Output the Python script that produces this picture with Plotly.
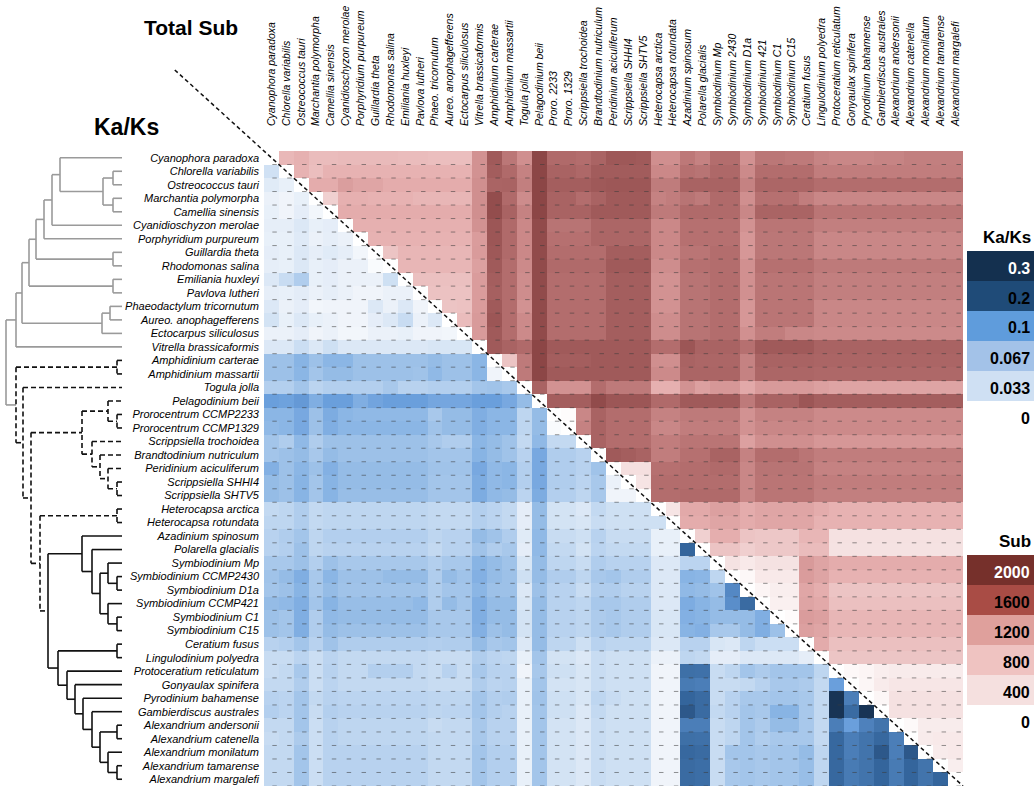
import numpy as np
import plotly.graph_objects as go

# ---------------- data ----------------
row_taxa = ["Cyanophora paradoxa", "Chlorella variabilis", "Ostreococcus tauri", "Marchantia polymorpha",
            "Camellia sinensis", "Cyanidioschyzon merolae", "Porphyridium purpureum", "Guillardia theta",
            "Rhodomonas salina", "Emiliania huxleyi", "Pavlova lutheri", "Phaeodactylum tricornutum",
            "Aureo. anophagefferens", "Ectocarpus siliculosus", "Vitrella brassicaformis", "Amphidinium carterae",
            "Amphidinium massartii", "Togula jolla", "Pelagodinium beii", "Prorocentrum CCMP2233",
            "Prorocentrum CCMP1329", "Scrippsiella trochoidea", "Brandtodinium nutriculum", "Peridinium aciculiferum",
            "Scrippsiella SHHI4", "Scrippsiella SHTV5", "Heterocapsa arctica", "Heterocapsa rotundata",
            "Azadinium spinosum", "Polarella glacialis", "Symbiodinium Mp", "Symbiodinium CCMP2430",
            "Symbiodinium D1a", "Symbiodinium CCMP421", "Symbiodinium C1", "Symbiodinium C15", "Ceratium fusus",
            "Lingulodinium polyedra", "Protoceratium reticulatum", "Gonyaulax spinifera", "Pyrodinium bahamense",
            "Gambierdiscus australes", "Alexandrium andersonii", "Alexandrium catenella", "Alexandrium monilatum",
            "Alexandrium tamarense", "Alexandrium margalefi"]

col_taxa = ["Cyanophora paradoxa", "Chlorella variabilis", "Ostreococcus tauri", "Marchantia polymorpha",
            "Camellia sinensis", "Cyanidioschyzon merolae", "Porphyridium purpureum", "Guillardia theta",
            "Rhodomonas salina", "Emiliania huxleyi", "Pavlova lutheri", "Phaeo. tricornutum",
            "Aureo. anophagefferens", "Ectocarpus siliculosus", "Vitrella brassicaformis", "Amphidinium carterae",
            "Amphidinium massartii", "Togula jolla", "Pelagodinium beii", "Proro. 2233", "Proro. 1329",
            "Scrippsiella trochoidea", "Brandtodinium nutriculum", "Peridinium aciculiferum", "Scrippsiella SHHI4",
            "Scrippsiella SHTV5", "Heterocapsa arctica", "Heterocapsa rotundata", "Azadinium spinosum",
            "Polarella glacialis", "Symbiodinium Mp", "Symbiodinium 2430", "Symbiodinium D1a", "Symbiodinium 421",
            "Symbiodinium C1", "Symbiodinium C15", "Ceratium fusus", "Lingulodinium polyedra",
            "Protoceratium reticulatum", "Gonyaulax spinifera", "Pyrodinium bahamense", "Gambierdiscus australes",
            "Alexandrium andersonii", "Alexandrium catenella", "Alexandrium monilatum", "Alexandrium tamarense",
            "Alexandrium margalefi"]

# Total substitutions, upper triangle: row i holds columns i+1 .. 46
sub_upper = [
    [930, 990, 900, 900, 920, 920, 920, 920, 900, 900, 870, 870, 870, 1250, 1630, 1420, 1270, 1800, 1500, 1500, 1480, 1550, 1650, 1650, 1630, 1270, 1270, 1410, 1350, 1480, 1480, 1250, 1420, 1420, 1400, 1400, 1340, 1320, 1320, 1320, 1340, 1340, 1370, 1370, 1370, 1370],
    [980, 870, 980, 980, 980, 980, 980, 980, 980, 980, 980, 980, 1250, 1610, 1500, 1350, 1800, 1560, 1560, 1520, 1620, 1620, 1620, 1620, 1310, 1310, 1460, 1440, 1520, 1520, 1300, 1480, 1480, 1480, 1480, 1380, 1380, 1380, 1380, 1380, 1380, 1380, 1380, 1380, 1380],
    [1040, 1040, 1170, 1110, 1110, 1040, 1040, 1040, 1040, 1040, 1040, 1270, 1550, 1560, 1370, 1800, 1600, 1600, 1600, 1640, 1660, 1660, 1660, 1390, 1390, 1560, 1560, 1560, 1560, 1350, 1530, 1530, 1530, 1530, 1480, 1480, 1480, 1480, 1480, 1480, 1480, 1480, 1480, 1480],
    [600, 1000, 1000, 980, 980, 980, 950, 950, 950, 950, 1270, 1740, 1500, 1290, 1800, 1560, 1560, 1480, 1560, 1630, 1630, 1630, 1350, 1380, 1440, 1400, 1500, 1500, 1270, 1460, 1460, 1460, 1380, 1320, 1320, 1320, 1320, 1320, 1320, 1320, 1320, 1320, 1320],
    [1040, 1040, 1040, 1040, 1040, 1040, 1040, 1040, 1040, 1270, 1740, 1560, 1350, 1800, 1560, 1560, 1560, 1630, 1630, 1630, 1630, 1400, 1400, 1500, 1500, 1500, 1500, 1320, 1550, 1550, 1550, 1550, 1430, 1430, 1430, 1430, 1430, 1430, 1430, 1430, 1430, 1430],
    [1000, 1000, 1000, 1000, 1000, 1000, 1000, 1000, 1250, 1670, 1500, 1310, 1760, 1440, 1440, 1440, 1530, 1530, 1530, 1530, 1310, 1310, 1460, 1460, 1460, 1460, 1250, 1430, 1430, 1430, 1430, 1370, 1370, 1370, 1370, 1370, 1370, 1370, 1370, 1370, 1370],
    [980, 980, 980, 980, 980, 980, 980, 1180, 1670, 1500, 1310, 1760, 1460, 1460, 1460, 1530, 1530, 1530, 1530, 1310, 1310, 1460, 1460, 1460, 1460, 1220, 1420, 1420, 1420, 1420, 1320, 1320, 1320, 1320, 1320, 1320, 1320, 1320, 1320, 1320],
    [800, 950, 950, 950, 950, 950, 1190, 1650, 1500, 1310, 1760, 1480, 1480, 1480, 1480, 1600, 1600, 1600, 1310, 1310, 1430, 1430, 1480, 1480, 1220, 1420, 1420, 1420, 1420, 1320, 1320, 1320, 1320, 1320, 1320, 1320, 1320, 1320, 1320],
    [950, 950, 950, 950, 950, 1150, 1630, 1480, 1300, 1760, 1500, 1500, 1500, 1500, 1630, 1630, 1630, 1280, 1280, 1460, 1460, 1480, 1480, 1260, 1460, 1460, 1460, 1460, 1400, 1400, 1400, 1400, 1400, 1400, 1400, 1400, 1400, 1400],
    [850, 850, 850, 850, 1180, 1600, 1480, 1280, 1760, 1480, 1480, 1480, 1480, 1600, 1600, 1600, 1250, 1250, 1440, 1440, 1480, 1480, 1260, 1430, 1430, 1430, 1430, 1370, 1370, 1370, 1370, 1370, 1370, 1370, 1370, 1370, 1370],
    [820, 820, 820, 1180, 1580, 1480, 1280, 1760, 1480, 1480, 1480, 1480, 1600, 1600, 1600, 1250, 1250, 1440, 1440, 1480, 1480, 1260, 1430, 1430, 1430, 1430, 1370, 1370, 1370, 1370, 1370, 1370, 1370, 1370, 1370, 1370],
    [800, 820, 1180, 1630, 1480, 1250, 1760, 1480, 1480, 1480, 1480, 1600, 1600, 1600, 1250, 1250, 1440, 1440, 1480, 1480, 1220, 1430, 1430, 1430, 1430, 1320, 1320, 1320, 1320, 1320, 1320, 1320, 1320, 1320, 1320],
    [900, 1200, 1670, 1480, 1300, 1760, 1480, 1480, 1480, 1480, 1600, 1600, 1600, 1280, 1280, 1440, 1440, 1480, 1480, 1220, 1430, 1430, 1430, 1430, 1320, 1320, 1320, 1320, 1320, 1320, 1320, 1320, 1320, 1320],
    [1200, 1630, 1480, 1300, 1760, 1480, 1480, 1480, 1480, 1600, 1600, 1600, 1280, 1280, 1440, 1440, 1480, 1480, 1260, 1380, 1380, 1320, 1320, 1300, 1300, 1300, 1300, 1300, 1300, 1300, 1300, 1300, 1300],
    [1630, 1560, 1500, 1800, 1630, 1630, 1630, 1630, 1630, 1630, 1630, 1480, 1480, 1670, 1560, 1560, 1560, 1460, 1630, 1630, 1630, 1630, 1560, 1560, 1560, 1560, 1560, 1560, 1560, 1560, 1560, 1560],
    [800, 1400, 1800, 1600, 1600, 1600, 1630, 1630, 1630, 1630, 1270, 1270, 1560, 1530, 1530, 1530, 1350, 1560, 1560, 1560, 1560, 1540, 1540, 1540, 1540, 1540, 1540, 1540, 1540, 1540, 1540],
    [1400, 1800, 1630, 1630, 1630, 1630, 1630, 1630, 1630, 1300, 1300, 1540, 1540, 1540, 1540, 1350, 1530, 1530, 1530, 1530, 1520, 1520, 1520, 1520, 1520, 1520, 1520, 1520, 1520, 1520],
    [1560, 1250, 1250, 1250, 1480, 1400, 1400, 1400, 1000, 1000, 1250, 1150, 1220, 1220, 1070, 1200, 1200, 1200, 1200, 1150, 1120, 1120, 1120, 1120, 1120, 1120, 1120, 1120, 1120],
    [1600, 1600, 1600, 1760, 1670, 1670, 1670, 1500, 1500, 1630, 1630, 1630, 1630, 1400, 1560, 1560, 1560, 1670, 1600, 1600, 1600, 1600, 1600, 1600, 1600, 1600, 1600, 1600],
    [50, 1320, 1560, 1480, 1480, 1480, 1350, 1350, 1400, 1400, 1400, 1400, 1250, 1350, 1350, 1350, 1350, 1300, 1300, 1300, 1300, 1300, 1300, 1300, 1300, 1300, 1300],
    [1350, 1560, 1480, 1480, 1480, 1320, 1320, 1380, 1380, 1380, 1380, 1250, 1320, 1320, 1320, 1320, 1300, 1300, 1300, 1300, 1300, 1300, 1300, 1300, 1300, 1300],
    [1560, 1480, 1480, 1480, 1380, 1380, 1430, 1430, 1430, 1430, 1150, 1270, 1270, 1270, 1270, 1220, 1220, 1220, 1220, 1220, 1220, 1220, 1220, 1220, 1220],
    [1630, 1600, 1560, 1380, 1380, 1460, 1460, 1560, 1560, 1350, 1480, 1480, 1480, 1430, 1380, 1380, 1380, 1380, 1380, 1380, 1380, 1380, 1380, 1380],
    [350, 350, 1460, 1460, 1480, 1480, 1500, 1500, 1320, 1440, 1440, 1440, 1440, 1350, 1350, 1350, 1350, 1350, 1350, 1350, 1350, 1350, 1350],
    [300, 1480, 1480, 1480, 1480, 1480, 1480, 1320, 1430, 1430, 1430, 1430, 1380, 1380, 1380, 1380, 1380, 1380, 1380, 1380, 1380, 1380],
    [1480, 1480, 1500, 1500, 1500, 1500, 1320, 1430, 1430, 1430, 1430, 1370, 1370, 1370, 1370, 1370, 1370, 1370, 1370, 1370, 1370],
    [300, 1070, 1070, 1150, 1150, 1040, 1110, 1110, 1110, 1110, 1040, 980, 980, 980, 980, 980, 980, 980, 980, 980],
    [1040, 1040, 1110, 1110, 1040, 1100, 1100, 1100, 1100, 980, 980, 980, 980, 980, 980, 980, 980, 980, 980],
    [600, 1020, 1020, 800, 750, 750, 750, 950, 950, 330, 330, 330, 330, 330, 330, 330, 330, 330],
    [800, 800, 620, 730, 730, 730, 900, 900, 320, 320, 320, 320, 320, 320, 320, 320, 320],
    [320, 250, 320, 320, 320, 1200, 1120, 1040, 1040, 1040, 1040, 1040, 1040, 1040, 1040, 1040],
    [100, 250, 250, 250, 1180, 1120, 980, 980, 980, 980, 980, 980, 980, 980, 980],
    [130, 200, 200, 1100, 1020, 800, 800, 800, 800, 800, 800, 800, 800, 800],
    [180, 180, 1120, 1070, 850, 850, 850, 850, 850, 850, 850, 850, 850],
    [60, 1180, 1150, 950, 950, 950, 950, 950, 950, 950, 950, 950],
    [1150, 1110, 950, 950, 950, 950, 950, 950, 950, 950, 950],
    [1050, 850, 850, 850, 850, 850, 850, 850, 850, 850],
    [780, 780, 780, 780, 780, 780, 780, 780, 780],
    [100, 130, 200, 230, 230, 230, 230, 230],
    [120, 230, 280, 280, 280, 280, 280],
    [120, 330, 330, 330, 330, 330],
    [330, 330, 330, 330, 330],
    [80, 220, 220, 220],
    [230, 250, 250],
    [230, 250],
    [200],
    [],
]

# Ka/Ks, lower triangle: row i holds columns 0 .. i-1
kaks_lower = [
    [],
    [0.035],
    [0.024, 0.018],
    [0.016, 0.012, 0.018],
    [0.018, 0.012, 0.021, 0.01],
    [0.02, 0.02, 0.027, 0.018, 0.021],
    [0.018, 0.018, 0.025, 0.016, 0.02, 0.016],
    [0.021, 0.018, 0.027, 0.02, 0.024, 0.02, 0.01],
    [0.02, 0.018, 0.027, 0.018, 0.021, 0.016, 0.016, 0.005],
    [0.027, 0.04, 0.055, 0.018, 0.021, 0.016, 0.016, 0.016, 0.036],
    [0.02, 0.018, 0.022, 0.016, 0.02, 0.016, 0.012, 0.012, 0.016, 0.016],
    [0.027, 0.016, 0.021, 0.01, 0.012, 0.012, 0.012, 0.027, 0.016, 0.027, 0.012],
    [0.033, 0.018, 0.027, 0.018, 0.016, 0.012, 0.012, 0.021, 0.027, 0.04, 0.016, 0.027],
    [0.016, 0.016, 0.021, 0.012, 0.016, 0.01, 0.01, 0.016, 0.016, 0.018, 0.012, 0.012, 0.01],
    [0.027, 0.027, 0.038, 0.027, 0.036, 0.027, 0.027, 0.027, 0.027, 0.027, 0.027, 0.03, 0.03, 0.03],
    [0.067, 0.067, 0.08, 0.067, 0.078, 0.078, 0.067, 0.067, 0.067, 0.067, 0.067, 0.072, 0.067, 0.067, 0.078],
    [0.067, 0.067, 0.078, 0.063, 0.072, 0.072, 0.067, 0.067, 0.067, 0.067, 0.065, 0.075, 0.067, 0.067, 0.078, 0.012],
    [0.053, 0.053, 0.063, 0.048, 0.053, 0.053, 0.053, 0.053, 0.06, 0.05, 0.05, 0.053, 0.053, 0.053, 0.063, 0.065, 0.06],
    [0.1, 0.097, 0.105, 0.085, 0.1, 0.1, 0.085, 0.094, 0.1, 0.1, 0.1, 0.092, 0.092, 0.092, 0.1, 0.1, 0.09, 0.072],
    [0.078, 0.078, 0.09, 0.067, 0.087, 0.078, 0.075, 0.075, 0.075, 0.075, 0.075, 0.06, 0.072, 0.072, 0.085, 0.078, 0.078, 0.046, 0.072],
    [0.075, 0.078, 0.09, 0.067, 0.085, 0.078, 0.078, 0.078, 0.078, 0.078, 0.078, 0.065, 0.072, 0.072, 0.085, 0.078, 0.078, 0.046, 0.072, 0.005],
    [0.063, 0.055, 0.075, 0.055, 0.067, 0.067, 0.067, 0.067, 0.067, 0.067, 0.067, 0.06, 0.055, 0.055, 0.078, 0.072, 0.065, 0.043, 0.075, 0.043, 0.043],
    [0.063, 0.067, 0.072, 0.06, 0.072, 0.067, 0.067, 0.067, 0.067, 0.067, 0.067, 0.063, 0.063, 0.063, 0.08, 0.072, 0.065, 0.05, 0.09, 0.055, 0.055, 0.05],
    [0.083, 0.067, 0.078, 0.067, 0.083, 0.072, 0.072, 0.072, 0.072, 0.072, 0.072, 0.065, 0.065, 0.065, 0.09, 0.075, 0.078, 0.053, 0.09, 0.055, 0.055, 0.05, 0.065],
    [0.072, 0.067, 0.08, 0.063, 0.08, 0.072, 0.072, 0.072, 0.072, 0.072, 0.072, 0.063, 0.063, 0.063, 0.087, 0.075, 0.078, 0.053, 0.09, 0.055, 0.055, 0.048, 0.06, 0.016],
    [0.072, 0.067, 0.08, 0.063, 0.08, 0.07, 0.07, 0.07, 0.07, 0.07, 0.07, 0.063, 0.063, 0.063, 0.087, 0.075, 0.072, 0.048, 0.087, 0.053, 0.053, 0.046, 0.06, 0.012, 0.012],
    [0.043, 0.046, 0.055, 0.043, 0.046, 0.046, 0.046, 0.046, 0.046, 0.046, 0.046, 0.043, 0.043, 0.043, 0.053, 0.048, 0.043, 0.021, 0.072, 0.033, 0.033, 0.027, 0.043, 0.036, 0.036, 0.036],
    [0.046, 0.046, 0.055, 0.043, 0.046, 0.046, 0.046, 0.046, 0.046, 0.046, 0.046, 0.043, 0.043, 0.043, 0.053, 0.048, 0.043, 0.021, 0.072, 0.033, 0.033, 0.03, 0.04, 0.036, 0.036, 0.036, 0.036],
    [0.05, 0.055, 0.063, 0.046, 0.053, 0.053, 0.053, 0.053, 0.053, 0.053, 0.053, 0.046, 0.05, 0.05, 0.072, 0.065, 0.055, 0.024, 0.075, 0.04, 0.04, 0.036, 0.05, 0.04, 0.04, 0.04, 0.018, 0.018],
    [0.05, 0.053, 0.067, 0.046, 0.05, 0.05, 0.05, 0.05, 0.05, 0.05, 0.05, 0.043, 0.05, 0.05, 0.065, 0.055, 0.06, 0.021, 0.075, 0.043, 0.043, 0.033, 0.048, 0.043, 0.043, 0.043, 0.018, 0.018, 0.2],
    [0.06, 0.06, 0.067, 0.053, 0.067, 0.06, 0.06, 0.06, 0.06, 0.06, 0.06, 0.053, 0.06, 0.06, 0.08, 0.072, 0.065, 0.03, 0.072, 0.046, 0.046, 0.04, 0.055, 0.05, 0.05, 0.05, 0.027, 0.027, 0.048, 0.048],
    [0.065, 0.072, 0.085, 0.06, 0.078, 0.067, 0.067, 0.067, 0.072, 0.072, 0.072, 0.055, 0.072, 0.065, 0.083, 0.072, 0.067, 0.036, 0.072, 0.055, 0.055, 0.046, 0.06, 0.063, 0.055, 0.055, 0.027, 0.027, 0.08, 0.078, 0.046],
    [0.063, 0.067, 0.08, 0.06, 0.072, 0.065, 0.065, 0.065, 0.065, 0.065, 0.065, 0.055, 0.063, 0.063, 0.078, 0.067, 0.067, 0.027, 0.067, 0.05, 0.05, 0.04, 0.055, 0.055, 0.05, 0.05, 0.027, 0.027, 0.075, 0.072, 0.065, 0.12],
    [0.072, 0.075, 0.085, 0.063, 0.08, 0.07, 0.07, 0.07, 0.07, 0.07, 0.075, 0.055, 0.072, 0.063, 0.085, 0.072, 0.072, 0.03, 0.072, 0.05, 0.05, 0.046, 0.06, 0.06, 0.055, 0.055, 0.027, 0.027, 0.087, 0.08, 0.072, 0.115, 0.18],
    [0.067, 0.063, 0.085, 0.055, 0.075, 0.072, 0.072, 0.072, 0.072, 0.072, 0.072, 0.06, 0.06, 0.06, 0.085, 0.072, 0.072, 0.033, 0.072, 0.05, 0.05, 0.046, 0.057, 0.06, 0.055, 0.055, 0.03, 0.03, 0.083, 0.08, 0.072, 0.072, 0.072, 0.085],
    [0.067, 0.063, 0.085, 0.055, 0.072, 0.067, 0.067, 0.067, 0.067, 0.067, 0.067, 0.06, 0.06, 0.06, 0.083, 0.067, 0.072, 0.033, 0.072, 0.05, 0.05, 0.046, 0.057, 0.06, 0.055, 0.055, 0.03, 0.03, 0.08, 0.083, 0.06, 0.06, 0.072, 0.085, 0.067],
    [0.05, 0.053, 0.063, 0.05, 0.065, 0.055, 0.055, 0.055, 0.055, 0.055, 0.055, 0.053, 0.055, 0.055, 0.072, 0.06, 0.063, 0.027, 0.072, 0.046, 0.046, 0.036, 0.05, 0.046, 0.046, 0.046, 0.027, 0.027, 0.05, 0.05, 0.03, 0.027, 0.046, 0.038, 0.038, 0.038],
    [0.04, 0.04, 0.048, 0.038, 0.048, 0.043, 0.043, 0.043, 0.043, 0.043, 0.043, 0.04, 0.04, 0.04, 0.055, 0.048, 0.046, 0.018, 0.063, 0.033, 0.033, 0.027, 0.04, 0.036, 0.036, 0.036, 0.016, 0.016, 0.046, 0.043, 0.021, 0.021, 0.027, 0.027, 0.027, 0.027, 0.021],
    [0.04, 0.043, 0.06, 0.038, 0.05, 0.043, 0.043, 0.053, 0.053, 0.053, 0.043, 0.04, 0.05, 0.04, 0.06, 0.05, 0.05, 0.012, 0.06, 0.036, 0.036, 0.03, 0.04, 0.036, 0.036, 0.036, 0.012, 0.012, 0.165, 0.16, 0.04, 0.046, 0.063, 0.057, 0.063, 0.063, 0.063, 0.046],
    [0.043, 0.043, 0.055, 0.038, 0.048, 0.043, 0.043, 0.043, 0.043, 0.043, 0.043, 0.04, 0.04, 0.04, 0.055, 0.048, 0.05, 0.018, 0.063, 0.033, 0.033, 0.03, 0.04, 0.036, 0.036, 0.036, 0.012, 0.012, 0.14, 0.135, 0.04, 0.04, 0.043, 0.05, 0.06, 0.06, 0.057, 0.043, 0.1],
    [0.05, 0.048, 0.063, 0.043, 0.05, 0.048, 0.048, 0.048, 0.048, 0.048, 0.048, 0.046, 0.046, 0.046, 0.063, 0.053, 0.055, 0.018, 0.065, 0.036, 0.036, 0.03, 0.046, 0.04, 0.036, 0.036, 0.012, 0.012, 0.2, 0.18, 0.04, 0.05, 0.06, 0.06, 0.063, 0.063, 0.06, 0.043, 0.28, 0.135],
    [0.053, 0.048, 0.063, 0.04, 0.053, 0.05, 0.05, 0.05, 0.05, 0.05, 0.05, 0.046, 0.048, 0.048, 0.063, 0.053, 0.05, 0.018, 0.063, 0.036, 0.036, 0.027, 0.043, 0.036, 0.036, 0.036, 0.012, 0.012, 0.215, 0.18, 0.043, 0.05, 0.063, 0.06, 0.08, 0.08, 0.06, 0.043, 0.28, 0.18, 0.28],
    [0.043, 0.043, 0.063, 0.038, 0.05, 0.046, 0.046, 0.046, 0.046, 0.046, 0.046, 0.04, 0.043, 0.043, 0.06, 0.05, 0.05, 0.018, 0.063, 0.033, 0.033, 0.027, 0.04, 0.036, 0.036, 0.036, 0.012, 0.012, 0.135, 0.135, 0.04, 0.046, 0.063, 0.057, 0.072, 0.072, 0.06, 0.043, 0.135, 0.1, 0.13, 0.15],
    [0.04, 0.043, 0.057, 0.038, 0.05, 0.046, 0.046, 0.046, 0.046, 0.046, 0.046, 0.043, 0.043, 0.043, 0.06, 0.05, 0.05, 0.018, 0.063, 0.033, 0.033, 0.027, 0.04, 0.036, 0.036, 0.036, 0.012, 0.012, 0.165, 0.16, 0.04, 0.046, 0.063, 0.055, 0.06, 0.06, 0.06, 0.043, 0.19, 0.135, 0.15, 0.19, 0.135],
    [0.043, 0.043, 0.063, 0.038, 0.05, 0.05, 0.05, 0.05, 0.05, 0.05, 0.05, 0.043, 0.043, 0.043, 0.063, 0.053, 0.053, 0.018, 0.063, 0.033, 0.033, 0.027, 0.04, 0.036, 0.036, 0.036, 0.012, 0.012, 0.19, 0.18, 0.04, 0.063, 0.063, 0.06, 0.063, 0.063, 0.072, 0.046, 0.19, 0.135, 0.15, 0.215, 0.135, 0.215],
    [0.043, 0.043, 0.063, 0.038, 0.05, 0.05, 0.05, 0.05, 0.05, 0.05, 0.05, 0.043, 0.043, 0.043, 0.063, 0.053, 0.053, 0.018, 0.063, 0.033, 0.033, 0.027, 0.04, 0.036, 0.036, 0.036, 0.012, 0.012, 0.18, 0.17, 0.04, 0.06, 0.063, 0.06, 0.063, 0.063, 0.07, 0.046, 0.19, 0.14, 0.15, 0.2, 0.14, 0.2, 0.15],
    [0.043, 0.043, 0.063, 0.038, 0.05, 0.05, 0.05, 0.05, 0.05, 0.05, 0.05, 0.043, 0.043, 0.043, 0.063, 0.053, 0.053, 0.018, 0.063, 0.033, 0.033, 0.027, 0.04, 0.036, 0.036, 0.036, 0.012, 0.012, 0.18, 0.17, 0.04, 0.06, 0.063, 0.06, 0.063, 0.063, 0.07, 0.046, 0.19, 0.14, 0.15, 0.2, 0.14, 0.2, 0.15, 0.2],
]

# legend bins
kaks_legend_values = ["0.3", "0.2", "0.1", "0.067", "0.033", "0"]
kaks_legend_colors = ["#14304f", "#1f4b78", "#5f9cdc", "#a3c2e8", "#cfe0f3", None]
sub_legend_values = ["2000", "1600", "1200", "800", "400", "0"]
sub_legend_colors = ["#76302b", "#a94c45", "#dfa09c", "#efc3c1", "#f5e0df", None]

# dendrogram: (node, height in px from left, child A, child B, line style)
tree_nodes = [
    ("chl_ost", 113, 1, 2, "grey"), ("land", 113, 3, 4, "grey"),
    ("green", 103, "chl_ost", "land", "grey"), ("cyan_green", 60, 0, "green", "grey"),
    ("plus_cyanid", 52, "cyan_green", 5, "grey"), ("plus_porph", 44, "plus_cyanid", 6, "grey"),
    ("crypto", 113, 7, 8, "grey"), ("plus_crypto", 36, "plus_porph", "crypto", "grey"),
    ("hapto", 113, 9, 10, "grey"), ("plus_hapto", 29, "plus_crypto", "hapto", "grey"),
    ("diat_pel", 110, 11, 12, "grey"), ("stramen", 102, "diat_pel", 13, "grey"),
    ("plus_stram", 22, "plus_hapto", "stramen", "grey"), ("plus_vitrella", 16, "plus_stram", 14, "grey"),
    ("amph", 117, 15, 16, "dash"), ("proro", 117, 19, 20, "dash"),
    ("pel_proro", 108, 18, "proro", "dash"), ("shh", 117, 24, 25, "dash"),
    ("peri_shh", 108, 23, "shh", "dash"), ("brandt", 100, 22, "peri_shh", "dash"),
    ("scripps", 92, 21, "brandt", "dash"), ("peridin", 82, "pel_proro", "scripps", "dash"),
    ("hetero", 117, 26, 27, "dash"),
    ("symb_a", 117, 31, 32, "solid"), ("symb_b", 108, 30, "symb_a", "solid"),
    ("symb_c", 117, 34, 35, "solid"), ("symb_d", 108, 33, "symb_c", "solid"),
    ("symb", 100, "symb_b", "symb_d", "solid"), ("polar_symb", 92, 29, "symb", "solid"),
    ("suess", 82, 28, "polar_symb", "solid"), ("cer_ling", 117, 36, 37, "solid"),
    ("alex_tm", 117, 45, 46, "solid"), ("alex_mon", 108, 44, "alex_tm", "solid"),
    ("alex_ac", 117, 42, 43, "solid"), ("alex", 100, "alex_ac", "alex_mon", "solid"),
    ("gamb", 92, 41, "alex", "solid"), ("pyro", 83, 40, "gamb", "solid"),
    ("gony", 75, 39, "pyro", "solid"), ("proto", 67, 38, "gony", "solid"),
    ("gonyaul", 58, "cer_ling", "proto", "solid"), ("core", 48, "suess", "gonyaul", "solid"),
    ("het_core", 40, "hetero", "core", "dash"), ("mid_dino", 31, "peridin", "het_core", "dash"),
    ("togula_rest", 23, 17, "mid_dino", "dash"), ("dino", 16, "amph", "togula_rest", "dash"),
    ("root", 6, "plus_vitrella", "dino", "grey"),
]
leaf_tip = 122

# ---------------- geometry ----------------
W, H = 1034, 786
N = len(row_taxa)
HX0, HX1 = 264.0, 963.0       # heatmap left/right (px)
HY0 = 151.0                    # heatmap top (px)
CW = (HX1 - HX0) / N
CH = (H - HY0) / N

def paper_x(px):
    return px / W

def paper_y(py):
    return 1 - py / H

def data_to_px(xv, yv):
    return HX0 + (xv + 0.5) * CW, HY0 + (yv + 0.5) * CH

# ---------------- matrices ----------------
sub = np.full((N, N), np.nan)
kaks = np.full((N, N), np.nan)
for i in range(N):
    assert len(sub_upper[i]) == N - 1 - i, (i, len(sub_upper[i]))
    assert len(kaks_lower[i]) == i, (i, len(kaks_lower[i]))
    if sub_upper[i]:
        sub[i, i + 1:] = sub_upper[i]
    if kaks_lower[i]:
        kaks[i, :i] = kaks_lower[i]

sub_scale_stops = [(0, "#ffffff"), (100, "#fdf8f8"), (200, "#f9eeee"), (300, "#f6e4e4"), (400, "#f3dada"),
                   (600, "#f0d0d0"), (800, "#ecc4c4"), (900, "#eabcbc"), (1000, "#e6b0b0"), (1100, "#e0a6a6"),
                   (1200, "#d89a9a"), (1300, "#cc8a8a"), (1400, "#be7a7a"), (1500, "#b06a6a"), (1600, "#a45e5e"),
                   (1700, "#985252"), (1800, "#8c4646"), (2000, "#7a3636")]
kaks_scale_stops = [(0, "#ffffff"), (0.01, "#f2f6fb"), (0.02, "#e6eef8"), (0.03, "#d8e6f5"), (0.04, "#c8dcf2"),
                    (0.05, "#b8d2ef"), (0.06, "#a8c8eb"), (0.07, "#98bee7"), (0.08, "#88b4e4"), (0.09, "#78a8e0"),
                    (0.10, "#6a9fdc"), (0.12, "#5488c4"), (0.15, "#4274ac"), (0.2, "#34659c"), (0.25, "#1e3a5f"),
                    (0.3, "#14304f")]
sub_scale = [[v / 2000, c] for v, c in sub_scale_stops]
kaks_scale = [[v / 0.3, c] for v, c in kaks_scale_stops]

fig = go.Figure()
idx = list(range(N))
fig.add_trace(go.Heatmap(z=sub, x=idx, y=idx, colorscale=sub_scale, zmin=0, zmax=2000,
                         showscale=False, hoverinfo="skip", xaxis="x", yaxis="y"))
fig.add_trace(go.Heatmap(z=kaks, x=idx, y=idx, colorscale=kaks_scale, zmin=0, zmax=0.3,
                         showscale=False, hoverinfo="skip", xaxis="x", yaxis="y"))

# small dashes along the lower edge of each cell
dx, dy = [], []
for i in range(N):
    for j in range(N):
        dx += [j - 0.5 + 0.56, j - 0.5 + 0.86, None]
        dy += [i + 0.5, i + 0.5, None]
fig.add_trace(go.Scatter(x=dx, y=dy, mode="lines", line=dict(color="rgba(60,60,60,0.55)", width=1),
                         hoverinfo="skip", showlegend=False, xaxis="x", yaxis="y"))

# ---------------- dendrogram ----------------
node_map = {n[0]: n for n in tree_nodes}
ypos = {}

def node_y(ref):
    if isinstance(ref, int):
        return ref
    if ref not in ypos:
        _, _, a, b, _ = node_map[ref]
        ypos[ref] = (node_y(a) + node_y(b)) / 2
    return ypos[ref]

def node_x(ref):
    return leaf_tip if isinstance(ref, int) else node_map[ref][1]

segs = {"grey": ([], []), "dash": ([], []), "solid": ([], [])}
for name, hx, a, b, style in tree_nodes:
    xs, ys = segs[style]
    ya, yb = node_y(a), node_y(b)
    xs += [hx, hx, None]
    ys += [ya, yb, None]
    for c in (a, b):
        xs += [hx, node_x(c), None]
        ys += [node_y(c), node_y(c), None]

styles = {"grey": dict(color="#9a9a9a", width=1.6),
          "dash": dict(color="#111111", width=1.6, dash="5px,3px"),
          "solid": dict(color="#111111", width=1.6)}
for st, (xs, ys) in segs.items():
    fig.add_trace(go.Scatter(x=xs, y=ys, mode="lines", line=styles[st], hoverinfo="skip",
                             showlegend=False, xaxis="x2", yaxis="y"))

# ---------------- diagonal ----------------
p0 = data_to_px(-6.5, -6.5)
p1 = data_to_px(N - 0.5, N - 0.5)
shapes = [dict(type="line", xref="paper", yref="paper", x0=paper_x(p0[0]), y0=paper_y(p0[1]),
               x1=paper_x(p1[0]), y1=paper_y(p1[1]), line=dict(color="#111111", width=1.5, dash="4px,3px"),
               layer="above")]

# ---------------- legends ----------------
annotations = []
LX0, LX1 = 967, 1034
BOX = 30

def add_legend(title, title_y, top, labels, colors):
    annotations.append(dict(text="<b>%s</b>" % title, x=paper_x(1033), y=paper_y(title_y), xref="paper",
                            yref="paper", xanchor="right", yanchor="middle", showarrow=False,
                            font=dict(size=17, color="#000000", family="Arial")))
    for k, (lab, col) in enumerate(zip(labels, colors)):
        y0 = top + k * BOX
        if col is not None:
            shapes.append(dict(type="rect", xref="paper", yref="paper", x0=paper_x(LX0), x1=paper_x(LX1),
                               y0=paper_y(y0), y1=paper_y(y0 + BOX), fillcolor=col, line=dict(width=0),
                               layer="above"))
        txtcol = "#ffffff" if k == 0 else "#000000"
        annotations.append(dict(text="<b>%s</b>" % lab, x=paper_x(1032), y=paper_y(y0 + 17), xref="paper",
                                yref="paper", xanchor="right", yanchor="middle", showarrow=False,
                                font=dict(size=16, color=txtcol, family="Arial")))

add_legend("Ka/Ks", 237, 251, kaks_legend_values, kaks_legend_colors)
add_legend("Sub", 541, 555, sub_legend_values, sub_legend_colors)

annotations.append(dict(text="<b>Total Sub</b>", x=paper_x(191), y=paper_y(28), xref="paper", yref="paper",
                        xanchor="center", yanchor="middle", showarrow=False,
                        font=dict(size=21, color="#000000", family="Arial")))
annotations.append(dict(text="<b>Ka/Ks</b>", x=paper_x(126), y=paper_y(127), xref="paper", yref="paper",
                        xanchor="center", yanchor="middle", showarrow=False,
                        font=dict(size=23, color="#000000", family="Arial")))

fig.update_layout(
    width=W, height=H, margin=dict(l=0, r=0, t=0, b=0),
    paper_bgcolor="white", plot_bgcolor="white", showlegend=False,
    font=dict(family="Arial", color="#000000"),
    xaxis=dict(domain=[paper_x(HX0), paper_x(HX1)], range=[-0.5, N - 0.5], side="top", anchor="y",
               tickvals=idx, ticktext=["<i>%s</i>" % t for t in col_taxa], tickangle=-90,
               tickfont=dict(size=10.5, family="Arial", color="#000000"), showgrid=False, zeroline=False,
               showline=False, ticks="", automargin=False, ticklabelstandoff=24),
    yaxis=dict(domain=[0, paper_y(HY0)], range=[N - 0.5, -0.5], anchor="x",
               tickvals=idx, ticktext=["<i>%s</i>" % t for t in row_taxa],
               tickfont=dict(size=11, family="Arial", color="#000000"), showgrid=False, zeroline=False,
               showline=False, ticks="", automargin=False, ticklabelstandoff=4),
    xaxis2=dict(domain=[0, paper_x(130)], range=[0, 130], anchor="y", visible=False),
    shapes=shapes, annotations=annotations,
)

fig.write_html("out.html", config={"displayModeBar": False},
               post_script="document.body.style.margin='0px';document.body.style.overflow='hidden';")
